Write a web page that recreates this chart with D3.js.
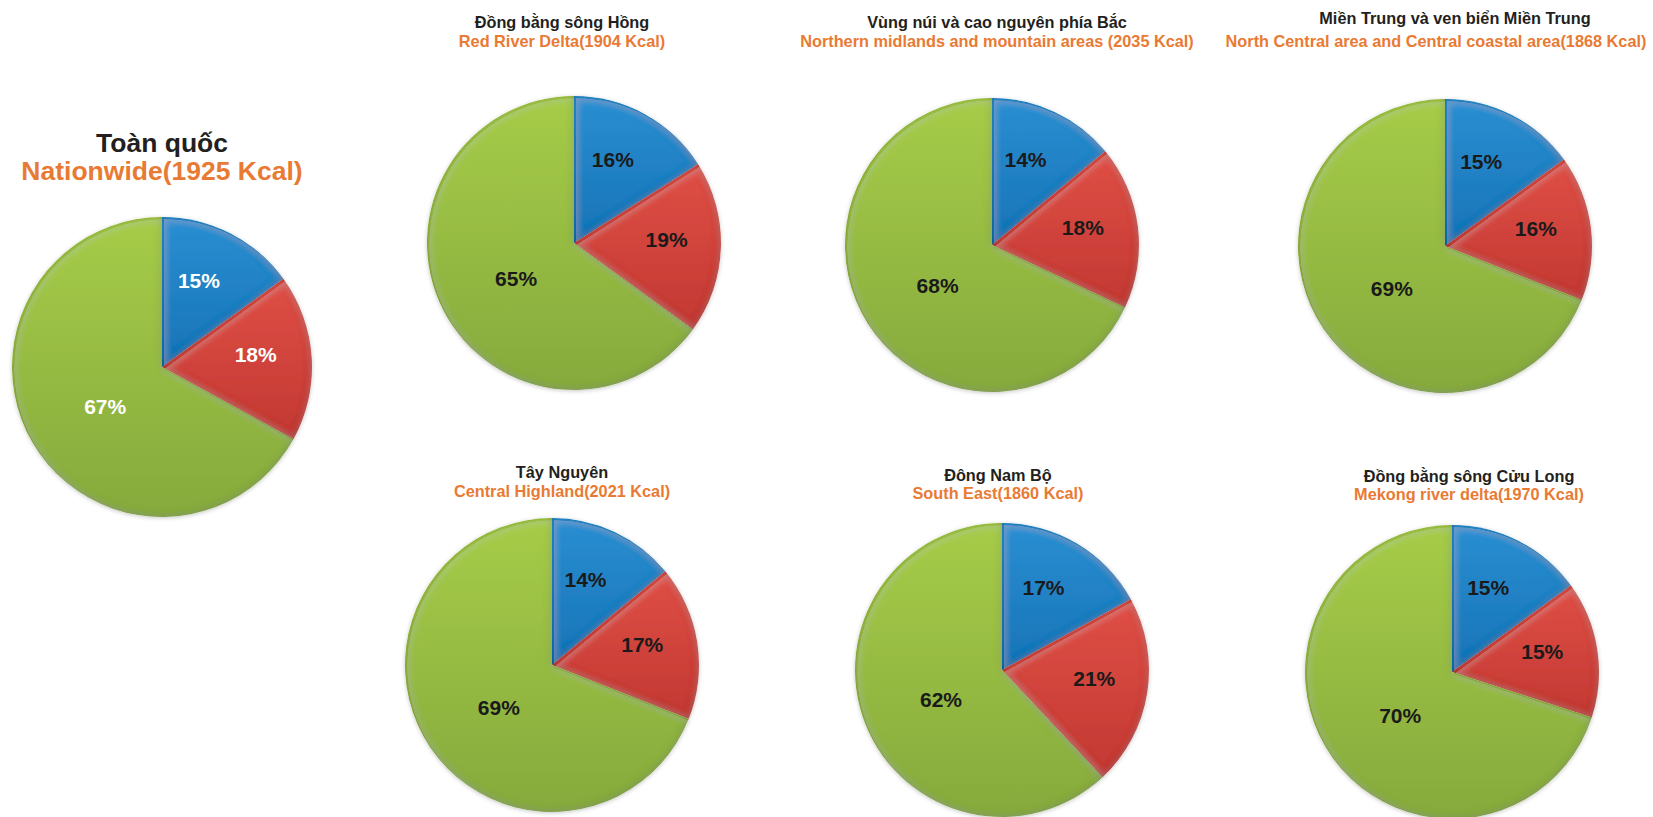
<!DOCTYPE html>
<html>
<head>
<meta charset="utf-8">
<script src="https://cdn.jsdelivr.net/npm/d3@7"></script>
<style>
    body { margin: 0; background: #fff; }
    text { font-family: "Liberation Sans", Arial, sans-serif; font-weight: bold; }
</style>
</head>
<body>
<div id="chart"></div>
<script>
// data
var regionsVi = ["Toàn quốc", "Đồng bằng sông Hồng", "Vùng núi và cao nguyên phía Bắc",
    "Miền Trung và ven biển Miền Trung", "Tây Nguyên", "Đông Nam Bộ", "Đồng bằng sông Cửu Long"];
var regionsEn = ["Nationwide", "Red River Delta", "Northern midlands and mountain areas ",
    "North Central area and Central coastal area", "Central Highland", "South East", "Mekong river delta"];
var kcal = [1925, 1904, 2035, 1868, 2021, 1860, 1970];
var protein = [15, 16, 14, 15, 14, 17, 15];
var fat = [18, 19, 18, 16, 17, 21, 15];
var carb = [67, 65, 68, 69, 69, 62, 70];

// layout of each pie (center, radius, title positions)
var layout = [
    {cx: 162, cy: 367, r: 150, tx: 162, ty1: 152, ox: 162, ty2: 180, size: 26.5, labelCol: "#fff"},
    {cx: 574, cy: 243, r: 147, tx: 562, ty1: 28, ox: 562, ty2: 47, size: 16.3, labelCol: "#1a1a1a"},
    {cx: 992, cy: 245, r: 147, tx: 997, ty1: 28, ox: 997, ty2: 47, size: 16.3, labelCol: "#1a1a1a"},
    {cx: 1445, cy: 246, r: 147, tx: 1455, ty1: 24, ox: 1436, ty2: 47, size: 16.3, labelCol: "#1a1a1a"},
    {cx: 552, cy: 665, r: 147, tx: 562, ty1: 478, ox: 562, ty2: 497, size: 16.3, labelCol: "#1a1a1a"},
    {cx: 1002, cy: 670, r: 147, tx: 998, ty1: 481, ox: 998, ty2: 499, size: 16.3, labelCol: "#1a1a1a"},
    {cx: 1452, cy: 672, r: 147, tx: 1469, ty1: 482, ox: 1469, ty2: 500, size: 16.3, labelCol: "#1a1a1a"}
];

var sliceNames = ["protein", "fat", "carb"];
var sliceCol = {
    protein: ["#2a8fd2", "#1673b6"],
    fat: ["#df4f46", "#c23832"],
    carb: ["#a6cc48", "#86aa3d"]
};

var width = 1653, height = 817;

var svg = d3.select("#chart").append("svg")
    .attr("width", width)
    .attr("height", height);

var defs = svg.append("defs");

// vertical shading per slice
sliceNames.forEach(function(k) {
    var g = defs.append("linearGradient")
        .attr("id", "grad-" + k)
        .attr("x1", 0).attr("y1", 0).attr("x2", 0).attr("y2", 1);
    g.append("stop").attr("offset", "0%").attr("stop-color", sliceCol[k][0]);
    g.append("stop").attr("offset", "100%").attr("stop-color", sliceCol[k][1]);
});

// inner rim on every slice, a little like excel's bevel
var bevel = defs.append("filter").attr("id", "bevel")
    .attr("x", "-5%").attr("y", "-5%").attr("width", "110%").attr("height", "110%");
bevel.append("feGaussianBlur").attr("in", "SourceAlpha").attr("stdDeviation", 4).attr("result", "blur");
bevel.append("feComposite").attr("in", "SourceAlpha").attr("in2", "blur")
    .attr("operator", "arithmetic").attr("k2", 1).attr("k3", -1).attr("result", "edge");
bevel.append("feFlood").attr("flood-color", "#000").attr("flood-opacity", 0.45);
bevel.append("feComposite").attr("in2", "edge").attr("operator", "in").attr("result", "rim");
// light edge slightly offset gives the raised look
bevel.append("feOffset").attr("in", "edge").attr("dx", 1.5).attr("dy", 1.5).attr("result", "edgeOff");
bevel.append("feComposite").attr("in", "edgeOff").attr("in2", "SourceAlpha").attr("operator", "in").attr("result", "edgeIn");
bevel.append("feFlood").attr("flood-color", "#fff").attr("flood-opacity", 0.25);
bevel.append("feComposite").attr("in2", "edgeIn").attr("operator", "in").attr("result", "hi");
var bm = bevel.append("feMerge");
bm.append("feMergeNode").attr("in", "SourceGraphic");
bm.append("feMergeNode").attr("in", "hi");
bm.append("feMergeNode").attr("in", "rim");

var shadow = defs.append("filter").attr("id", "shadow")
    .attr("x", "-10%").attr("y", "-10%").attr("width", "120%").attr("height", "120%");
shadow.append("feDropShadow").attr("dx", 0).attr("dy", 1).attr("stdDeviation", 2)
    .attr("flood-color", "#000").attr("flood-opacity", 0.22);

var pie = d3.pie()
    .sort(null)
    .value(function(d) { return d.value; });

regionsVi.forEach(function(name, i) {
    var L = layout[i];
    var values = [
        {key: "protein", value: protein[i]},
        {key: "fat", value: fat[i]},
        {key: "carb", value: carb[i]}
    ];
    var arcs = pie(values);

    var arc = d3.arc().innerRadius(0).outerRadius(L.r);

    var g = svg.append("g")
        .attr("class", "pie")
        .attr("transform", "translate(" + L.cx + "," + L.cy + ")");

    var body = g.append("g").attr("filter", "url(#shadow)");

    body.selectAll(".slice")
        .data(arcs)
        .enter()
        .append("path")
        .attr("class", "slice")
        .attr("d", arc)
        .attr("fill", function(d) { return "url(#grad-" + d.data.key + ")"; })
        .attr("filter", "url(#bevel)");

    // labels: big slice sits closer to the center
    g.selectAll(".pct")
        .data(arcs)
        .enter()
        .append("text")
        .attr("class", "pct")
        .attr("transform", function(d) {
            var a = (d.startAngle + d.endAngle) / 2 - 4 * Math.PI / 180;
            var k = (d.endAngle - d.startAngle) > Math.PI ? 0.46 : 0.63;
            var x = Math.sin(a) * L.r * k;
            var y = -Math.cos(a) * L.r * k;
            return "translate(" + x + "," + y + ")";
        })
        .attr("text-anchor", "middle")
        .attr("dy", "0.38em")
        .style("font-size", "21px")
        .style("fill", L.labelCol)
        .text(function(d) { return d.data.value + "%"; });

    svg.append("text")
        .attr("x", L.tx)
        .attr("y", L.ty1)
        .attr("text-anchor", "middle")
        .style("font-size", L.size + "px")
        .style("fill", "#231f20")
        .text(name);

    svg.append("text")
        .attr("x", L.ox)
        .attr("y", L.ty2)
        .attr("text-anchor", "middle")
        .style("font-size", L.size + "px")
        .style("fill", "#e97a33")
        .text(regionsEn[i] + "(" + kcal[i] + " Kcal)");
});
</script>
</body>
</html>
